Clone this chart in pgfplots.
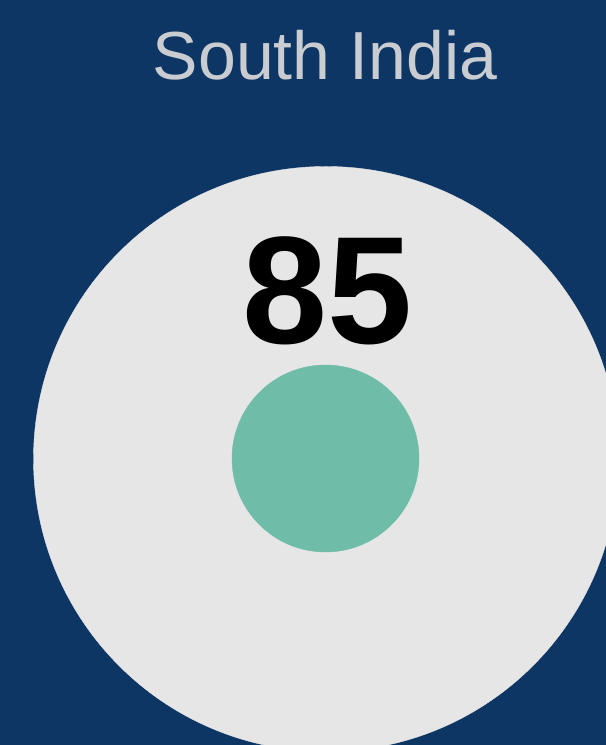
\documentclass[border=0pt]{standalone}
\usepackage{pgfplots}
\pgfplotsset{compat=1.18}
\usepackage{fontspec}
\setmainfont{Liberation Sans}
\definecolor{bg}{HTML}{0E3664}
\definecolor{circ}{HTML}{E6E6E6}
\definecolor{tealc}{HTML}{6FBDA8}
\definecolor{titlec}{HTML}{C9CDD2}
\begin{document}
\begin{tikzpicture}
\path[use as bounding box] (0,0) rectangle (606bp,745bp);
\clip (0,0) rectangle (606bp,745bp);
\fill[bg] (0,0) rectangle (606bp,745bp);
\begin{axis}[at={(0,0)}, anchor=south west, width=606bp, height=745bp, scale only axis,
  xmin=0, xmax=606, ymin=0, ymax=745, axis lines=none, clip=false]
\addplot[circ, only marks, mark=*, mark size=292.5bp, mark options={fill=circ, draw=circ}] coordinates {(326,286)};
\addplot[tealc, only marks, mark=*, mark size=93.5bp, mark options={fill=tealc, draw=tealc}] coordinates {(325.5,286.5)};
\coordinate (ttl) at (axis cs:325,665);
\coordinate (val) at (axis cs:328,401);
\end{axis}
\node[font=\fontsize{68bp}{76bp}\selectfont, text=titlec, anchor=base] at (ttl) {South India};
\node[font=\bfseries\fontsize{153bp}{160bp}\selectfont, text=black, anchor=base] at (val) {85};
\end{tikzpicture}
\end{document}
